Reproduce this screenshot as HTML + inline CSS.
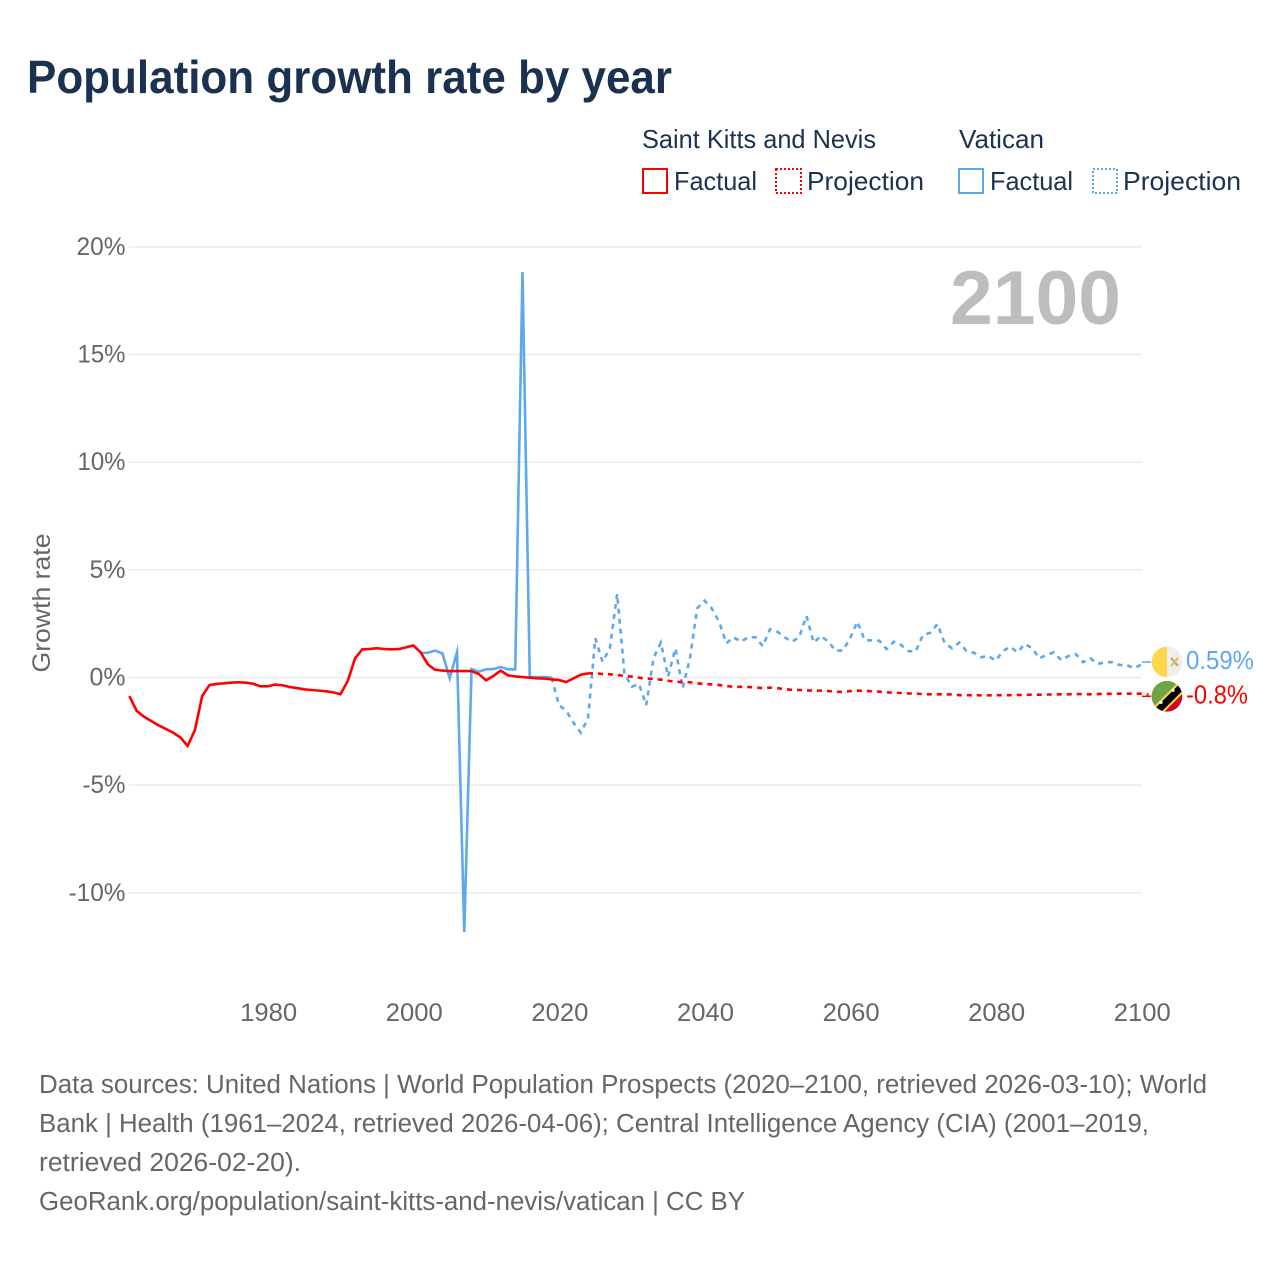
<!DOCTYPE html>
<html lang="en">
<head>
<meta charset="utf-8">
<title>Population growth rate by year</title>
<style>
html,body{margin:0;padding:0;background:#fff;width:1280px;height:1280px;overflow:hidden}
svg{display:block}
text{font-family:"Liberation Sans",sans-serif}
</style>
</head>
<body>
<svg id="chart" xmlns="http://www.w3.org/2000/svg" width="1280" height="1280" viewBox="0 0 1280 1280">
  <defs>
    <clipPath id="clip-vatican"><circle cx="1167" cy="0" r="15.3"/></clipPath>
    <clipPath id="clip-kitts"><circle cx="1167" cy="0" r="15.3"/></clipPath>
  </defs>
  <text x="27" y="93" font-size="46" font-weight="700" fill="#1a3150" textLength="645" lengthAdjust="spacingAndGlyphs">Population growth rate by year</text>

  <g font-size="26" fill="#1b3250">
    <text x="642" y="148" textLength="234" lengthAdjust="spacingAndGlyphs">Saint Kitts and Nevis</text>
    <text x="959" y="148" textLength="85" lengthAdjust="spacingAndGlyphs">Vatican</text>
    <rect x="643" y="169" width="24" height="24" fill="none" stroke="#ff0000" stroke-width="2"/>
    <text x="674" y="190" textLength="83" lengthAdjust="spacingAndGlyphs">Factual</text>
    <rect x="776" y="169" width="25" height="24" fill="none" stroke="#ff0000" stroke-width="2" stroke-dasharray="2 2"/>
    <text x="807" y="190" textLength="117" lengthAdjust="spacingAndGlyphs">Projection</text>
    <rect x="959" y="169" width="24" height="24" fill="none" stroke="#5ea8ee" stroke-width="2"/>
    <text x="990" y="190" textLength="83" lengthAdjust="spacingAndGlyphs">Factual</text>
    <rect x="1093" y="169" width="24" height="24" fill="none" stroke="#5ea8ee" stroke-width="2" stroke-dasharray="2 2"/>
    <text x="1123" y="190" textLength="118" lengthAdjust="spacingAndGlyphs">Projection</text>
  </g>

  <g id="grid"></g>
  <g id="y-ticks"></g>
  <g id="x-ticks"></g>

  <text transform="translate(50 603) rotate(-90)" text-anchor="middle" font-size="25" fill="#666" textLength="139" lengthAdjust="spacingAndGlyphs">Growth rate</text>
  <text x="950" y="324" font-size="76" font-weight="700" fill="#bdbdbd" textLength="171" lengthAdjust="spacingAndGlyphs">2100</text>

  <g id="series"></g>
  <g id="ends"></g>

  <g font-size="25.5" fill="#666">
    <text x="39" y="1093" textLength="1168" lengthAdjust="spacingAndGlyphs">Data sources: United Nations | World Population Prospects (2020–2100, retrieved 2026-03-10); World</text>
    <text x="39" y="1132" textLength="1110" lengthAdjust="spacingAndGlyphs">Bank | Health (1961–2024, retrieved 2026-04-06); Central Intelligence Agency (CIA) (2001–2019,</text>
    <text x="39" y="1171" textLength="262" lengthAdjust="spacingAndGlyphs">retrieved 2026-02-20).</text>
    <text x="39" y="1210" textLength="706" lengthAdjust="spacingAndGlyphs">GeoRank.org/population/saint-kitts-and-nevis/vatican | CC BY</text>
  </g>
</svg>
<script>
const yTickValues = [20, 15, 10, 5, 0, -5, -10];
const yTickLabels = ["20%", "15%", "10%", "5%", "0%", "-5%", "-10%"];
const xTickValues = [1980, 2000, 2020, 2040, 2060, 2080, 2100];
const xTickLabels = ["1980", "2000", "2020", "2040", "2060", "2080", "2100"];

const kittsFactualStart = 1961;
const kittsFactual = [-0.86,-1.55,-1.82,-2.02,-2.22,-2.39,-2.56,-2.78,-3.18,-2.44,-0.86,-0.35,-0.30,-0.27,-0.24,-0.22,-0.24,-0.29,-0.41,-0.41,-0.33,-0.36,-0.44,-0.49,-0.55,-0.58,-0.61,-0.64,-0.69,-0.78,-0.16,0.89,1.31,1.32,1.36,1.32,1.31,1.32,1.40,1.49,1.17,0.61,0.36,0.32,0.30,0.30,0.30,0.30,0.16,-0.13,0.07,0.32,0.10,0.05,0.02,-0.01,-0.04,-0.05,-0.09,-0.12,-0.21,-0.04,0.13,0.19];

const kittsProjectionStart = 2024;
const kittsProjection = [0.19,0.20,0.16,0.15,0.12,0.07,0.04,-0.01,-0.05,-0.07,-0.10,-0.15,-0.20,-0.21,-0.22,-0.27,-0.30,-0.32,-0.35,-0.39,-0.44,-0.43,-0.44,-0.47,-0.49,-0.47,-0.49,-0.55,-0.57,-0.58,-0.60,-0.61,-0.61,-0.63,-0.66,-0.67,-0.63,-0.61,-0.62,-0.64,-0.66,-0.69,-0.71,-0.72,-0.74,-0.75,-0.77,-0.78,-0.78,-0.78,-0.79,-0.82,-0.82,-0.82,-0.83,-0.83,-0.82,-0.82,-0.82,-0.81,-0.81,-0.80,-0.80,-0.79,-0.79,-0.78,-0.78,-0.77,-0.77,-0.78,-0.77,-0.76,-0.76,-0.75,-0.75,-0.75,-0.75,-0.8];

const vaticanFactualStart = 2001;
const vaticanFactual = [1.14,1.15,1.25,1.12,-0.04,1.17,-11.82,0.39,0.27,0.38,0.39,0.49,0.38,0.38,18.83,0.02,0.02,0.02,0.00];

const vaticanProjectionStart = 2019;
const vaticanProjection = [0.00,-1.28,-1.54,-2.10,-2.56,-1.90,1.82,0.73,1.36,3.88,0.19,-0.43,-0.30,-1.28,0.90,1.62,0.04,1.35,-0.50,0.89,3.21,3.57,3.21,2.59,1.59,1.87,1.66,1.87,1.87,1.46,2.24,2.13,1.87,1.66,1.87,2.86,1.62,1.93,1.66,1.25,1.25,1.82,2.59,1.74,1.72,1.71,1.32,1.66,1.51,1.23,1.20,1.97,2.08,2.48,1.59,1.36,1.62,1.23,1.15,0.94,1.00,0.78,1.23,1.43,1.17,1.56,1.36,0.89,1.05,1.17,0.81,1.00,1.09,0.71,0.89,0.63,0.71,0.71,0.58,0.58,0.43,0.59];

const endLabels = ["0.59%", "-0.8%"];

const SVG_NS = "http://www.w3.org/2000/svg";
const RED = "#ff0000";
const BLUE = "#5ea8ee";
function x(year) { return 267.7 + (year - 1980) * 7.28; }
function y(value) { return 677.5 - value * 21.53; }
function make(tag, attrs, parent) {
  const el = document.createElementNS(SVG_NS, tag);
  for (const k in attrs) el.setAttribute(k, attrs[k]);
  parent.appendChild(el);
  return el;
}

const gridGroup = document.getElementById("grid");
const yTickGroup = document.getElementById("y-ticks");
const xTickGroup = document.getElementById("x-ticks");
const seriesGroup = document.getElementById("series");
const endsGroup = document.getElementById("ends");

const yTickWidths = {"20%":49,"15%":48,"10%":48,"5%":36,"0%":36,"-5%":43,"-10%":57};
yTickValues.forEach(function (v, i) {
  const line = make("line", {x1: 129, x2: 1142, y1: y(v), y2: y(v), stroke: "#ececec", "stroke-width": 1.5}, gridGroup);
  
  
  const t = make("text", {x: 125.5, y: y(v) + 8, "text-anchor": "end", "font-size": 25, fill: "#666", textLength: yTickWidths[yTickLabels[i]], lengthAdjust: "spacingAndGlyphs"}, yTickGroup);
  
  
  t.textContent = yTickLabels[i];
});
xTickValues.forEach(function (v, i) {
  const t = make("text", {x: x(v) + 1, y: 1021, "text-anchor": "middle", "font-size": 25, fill: "#666", textLength: 57, lengthAdjust: "spacingAndGlyphs"}, xTickGroup);
  
  
  t.textContent = xTickLabels[i];
});

function points(start, values) {
  return values.map(function (v, i) { return x(start + i).toFixed(2) + "," + y(v).toFixed(2); }).join(" ");
}
const lineVaticanFactual = make("polyline", {points: points(vaticanFactualStart, vaticanFactual), fill: "none", stroke: BLUE, "stroke-width": 2.6, "stroke-linejoin": "miter", "stroke-miterlimit": 20}, seriesGroup);


const lineVaticanProjection = make("polyline", {points: points(vaticanProjectionStart, vaticanProjection), fill: "none", stroke: BLUE, "stroke-width": 2.6, "stroke-dasharray": "5 5"}, seriesGroup);


const lineKittsFactual = make("polyline", {points: points(kittsFactualStart, kittsFactual), fill: "none", stroke: RED, "stroke-width": 2.6}, seriesGroup);


const lineKittsProjection = make("polyline", {points: points(kittsProjectionStart, kittsProjection), fill: "none", stroke: RED, "stroke-width": 2.6, "stroke-dasharray": "5 5"}, seriesGroup);



/* End markers follow each series' last value */
const vaticanEndY = y(vaticanProjection[vaticanProjection.length - 1]);
const kittsEndY = y(kittsProjection[kittsProjection.length - 1]);
const vaticanFlagY = vaticanEndY - 2.8;
const kittsFlagY = kittsEndY + 1.6;

const connV = make("line", {x1: 1142, x2: 1151, y1: vaticanFlagY, y2: vaticanFlagY, stroke: BLUE, "stroke-width": 1.5}, endsGroup);


const connK = make("line", {x1: 1142, x2: 1151, y1: kittsFlagY, y2: kittsFlagY, stroke: RED, "stroke-width": 1.5}, endsGroup);



const flagV = make("g", {transform: "translate(0 " + vaticanFlagY + ")", "clip-path": "url(#clip-vatican)"}, endsGroup);


flagV.innerHTML = '<rect x="1151" y="-16" width="16" height="32" fill="#ffd64d"/><rect x="1167" y="-16" width="16" height="32" fill="#eeeeee"/><path d="M1171 -4L1178 4" stroke="#a8a8a8" stroke-width="2.2"/><path d="M1178 -4L1171 4" stroke="#e8c23a" stroke-width="2.2"/>';

const flagK = make("g", {transform: "translate(0 " + kittsFlagY + ")", "clip-path": "url(#clip-kitts)"}, endsGroup);


flagK.innerHTML = '<rect x="1151" y="-16" width="32" height="32" fill="#d80027"/><path d="M1151 -16H1183L1151 16Z" fill="#6da544"/><path d="M1156 16L1183 -11" stroke="#ffda44" stroke-width="11"/><path d="M1156 16L1183 -11" stroke="#000" stroke-width="7"/><circle cx="1161" cy="6" r="1.6" fill="#fff"/><circle cx="1173" cy="-6" r="1.6" fill="#fff"/>';

const labelV = make("text", {x: 1186, y: vaticanFlagY + 7, "font-size": 26, fill: BLUE, textLength: 68, lengthAdjust: "spacingAndGlyphs"}, endsGroup);


labelV.textContent = endLabels[0];
const labelK = make("text", {x: 1186, y: kittsFlagY + 7, "font-size": 26, fill: RED, textLength: 62, lengthAdjust: "spacingAndGlyphs"}, endsGroup);


labelK.textContent = endLabels[1];
</script>
</body>
</html>
